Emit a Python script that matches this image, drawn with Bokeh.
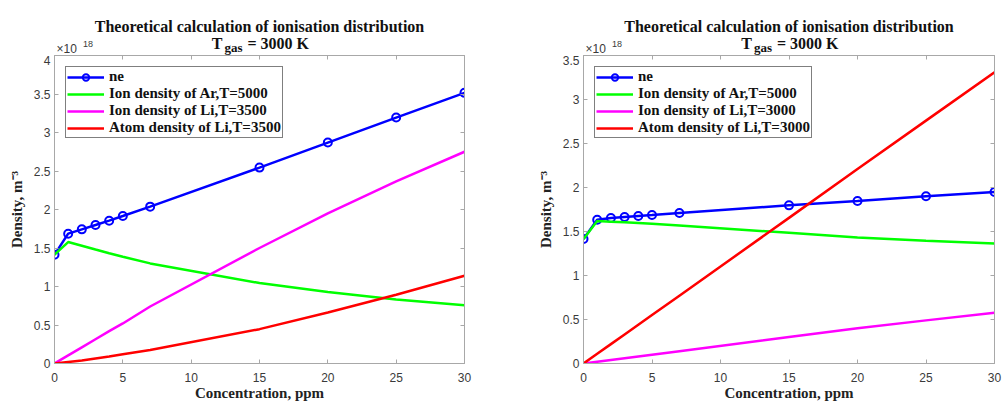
from bokeh.plotting import figure
from bokeh.layouts import row, column
from bokeh.models import (LinearAxis, FixedTicker, CustomJSTickFormatter, NumeralTickFormatter,
                          Label, Legend, LegendItem, Range1d)
from bokeh.embed import file_html
from bokeh.resources import INLINE

# ---------------- data (densities in units of 1e18 m^-3) ----------------
conc = [0, 1, 2, 3, 4, 5, 7, 15, 20, 25, 30]          # ppm
x_ticks = [0, 5, 10, 15, 20, 25, 30]

# left panel
ne_left = [1.413, 1.686, 1.742, 1.798, 1.855, 1.915, 2.037, 2.544, 2.869, 3.194, 3.515]
ar_left = [1.413, 1.577, 1.530, 1.480, 1.432, 1.387, 1.300, 1.045, 0.930, 0.830, 0.755]
li_ion_left = [0.0, 0.105, 0.210, 0.315, 0.420, 0.520, 0.740, 1.500, 1.950, 2.365, 2.750]
li_atom_left = [0.0, 0.020, 0.040, 0.065, 0.090, 0.120, 0.175, 0.446, 0.663, 0.893, 1.140]
y_ticks_left = [0, 0.5, 1, 1.5, 2, 2.5, 3, 3.5, 4]
labels_left = ["ne", "Ion density of Ar,T=5000", "Ion density of Li,T=3500", "Atom density of Li,T=3500"]

# right panel
ne_right = [1.414, 1.634, 1.653, 1.665, 1.676, 1.687, 1.710, 1.797, 1.847, 1.900, 1.949]
ar_right = [1.414, 1.619, 1.612, 1.604, 1.596, 1.588, 1.568, 1.485, 1.433, 1.395, 1.365]
li_ion_right = [0.0, 0.020, 0.040, 0.060, 0.080, 0.100, 0.140, 0.300, 0.400, 0.490, 0.578]
li_atom_right = [0.0, 0.110, 0.220, 0.330, 0.440, 0.550, 0.770, 1.655, 2.210, 2.760, 3.310]
y_ticks_right = [0, 0.5, 1, 1.5, 2, 2.5, 3, 3.5]
labels_right = ["ne", "Ion density of Ar,T=5000", "Ion density of Li,T=3000", "Atom density of Li,T=3000"]

title_line1 = "Theoretical calculation of ionisation distribution"
title_T, title_sub, title_rest = "T", "gas", "= 3000 K"
x_label = "Concentration, ppm"
y_label = "Density, m\u207b\u00b3"
exp_base, exp_pow = "\u00d710", "18"

# ---------------- layout / styling ----------------
TITLE_H = 55          # height of the title strip above each plot
MAIN_H = 348
FRAME_W = 410
SERIF = "Liberation Serif"
SANS = "Liberation Sans"
AX_COL = "#a8a8a8"
TXT_COL = "#3a3a3a"
colors = ["#0000ff", "#00ff00", "#ff00ff", "#ff0000"]
X_MIN, X_MAX = 0, 30


def style_axis(ax, ticks, show_labels):
    ax.ticker = FixedTicker(ticks=ticks)
    ax.axis_line_color = AX_COL
    ax.major_tick_line_color = AX_COL
    ax.minor_tick_line_color = None
    ax.minor_tick_in = 0
    ax.minor_tick_out = 0
    ax.major_tick_in = 4
    ax.major_tick_out = 0
    if show_labels:
        ax.major_label_text_font = SANS
        ax.major_label_text_font_size = "12px"
        ax.major_label_text_color = TXT_COL
    else:
        ax.formatter = CustomJSTickFormatter(code="return ''")
        ax.major_label_standoff = 0
        ax.axis_label_standoff = 0
        ax.major_label_text_font_size = "0px"


def title_strip(width):
    # this strip's frame is aligned (by the column layout) with the plot frame below it
    t = figure(width=width, height=TITLE_H, x_range=Range1d(X_MIN, X_MAX), y_range=Range1d(0, TITLE_H),
               output_backend="svg", toolbar_location=None, title_location=None, min_border=0,
               background_fill_color="white", border_fill_color="white")
    t.axis.visible = False
    t.xgrid.visible = False
    t.ygrid.visible = False
    t.outline_line_color = None
    xc = (X_MIN + X_MAX) / 2.0

    def lab(text, x, dx, top_dist, size, align, font=SERIF, style="bold", color="#111111"):
        t.add_layout(Label(x=x, y=TITLE_H - top_dist, x_offset=dx, text=text, text_font=font,
                           text_font_style=style, text_font_size=size, text_align=align,
                           text_baseline="alphabetic", text_color=color))

    lab(title_line1, xc, 0, 26, "16px", "center")
    lab(title_T, xc, -37, 42.5, "16px", "right")
    lab(title_sub, xc, -35, 47, "13px", "left")
    lab(title_rest, xc, -12, 42.5, "16px", "left")
    lab(exp_base, X_MIN, 2, 48.5, "12px", "left", font=SANS, style="normal", color=TXT_COL)
    lab(exp_pow, X_MIN, 28.5, 43.5, "9px", "left", font=SANS, style="normal", color=TXT_COL)
    return t


def panel(ne, ar, li_ion, li_atom, labels, ymax, yticks, width, mbl, mbr):
    p = figure(width=width, height=MAIN_H, x_range=Range1d(X_MIN, X_MAX), y_range=Range1d(0, ymax),
               output_backend="svg", toolbar_location=None, title_location=None,
               min_border_left=mbl, min_border_right=mbr, min_border_top=0,
               min_border_bottom=40,
               background_fill_color="white", border_fill_color="white")
    p.xgrid.visible = False
    p.ygrid.visible = False
    p.outline_line_color = AX_COL

    xa = p.xaxis[0]
    style_axis(xa, x_ticks, True)
    xa.major_label_standoff = 9
    xa.axis_label = x_label
    xa.axis_label_text_font = SERIF
    xa.axis_label_text_font_style = "bold"
    xa.axis_label_text_font_size = "15px"
    xa.axis_label_text_color = "#222222"
    xa.axis_label_standoff = 0

    ya = p.yaxis[0]
    style_axis(ya, yticks, True)
    ya.formatter = NumeralTickFormatter(format="0.[0]")
    ya.major_label_standoff = 4
    ya.axis_label = y_label
    ya.axis_label_text_font = SERIF
    ya.axis_label_text_font_style = "bold"
    ya.axis_label_text_font_size = "15px"
    ya.axis_label_text_color = "#222222"
    ya.axis_label_standoff = 6

    top = LinearAxis()
    style_axis(top, x_ticks, False)
    p.add_layout(top, "above")
    right = LinearAxis()
    style_axis(right, yticks, False)
    p.add_layout(right, "right")

    r_ne = p.line(conc, ne, line_color=colors[0], line_width=2.5)
    r_ne_pts = p.scatter(conc, ne, marker="circle", size=8, fill_color=None,
                         line_color=colors[0], line_width=2)
    r_ar = p.line(conc, ar, line_color=colors[1], line_width=2.5)
    r_li = p.line(conc, li_ion, line_color=colors[2], line_width=2.5)
    r_at = p.line(conc, li_atom, line_color=colors[3], line_width=2.5)

    items = [LegendItem(label=labels[0], renderers=[r_ne, r_ne_pts]),
             LegendItem(label=labels[1], renderers=[r_ar]),
             LegendItem(label=labels[2], renderers=[r_li]),
             LegendItem(label=labels[3], renderers=[r_at])]
    leg = Legend(items=items, location="top_left", margin=11, padding=1, spacing=0,
                 label_height=16, glyph_height=16, glyph_width=37, label_standoff=5,
                 label_text_font=SERIF, label_text_font_style="bold",
                 label_text_font_size="15px", label_text_color="#111111",
                 border_line_color="black", border_line_width=1, background_fill_alpha=1)
    p.add_layout(leg)
    return p


LEFT_W = 520
RIGHT_W = 483
left_frame_x = 54
right_frame_x = 583 - LEFT_W

t1 = title_strip(LEFT_W)
p1 = panel(ne_left, ar_left, li_ion_left, li_atom_left, labels_left, 4, y_ticks_left,
           LEFT_W, left_frame_x, LEFT_W - left_frame_x - FRAME_W)
t2 = title_strip(RIGHT_W)
p2 = panel(ne_right, ar_right, li_ion_right, li_atom_right, labels_right, 3.5, y_ticks_right,
           RIGHT_W, right_frame_x, RIGHT_W - right_frame_x - FRAME_W - 1)

layout = row(column(t1, p1), column(t2, p2))
open("out.html", "w").write(file_html(layout, INLINE))
